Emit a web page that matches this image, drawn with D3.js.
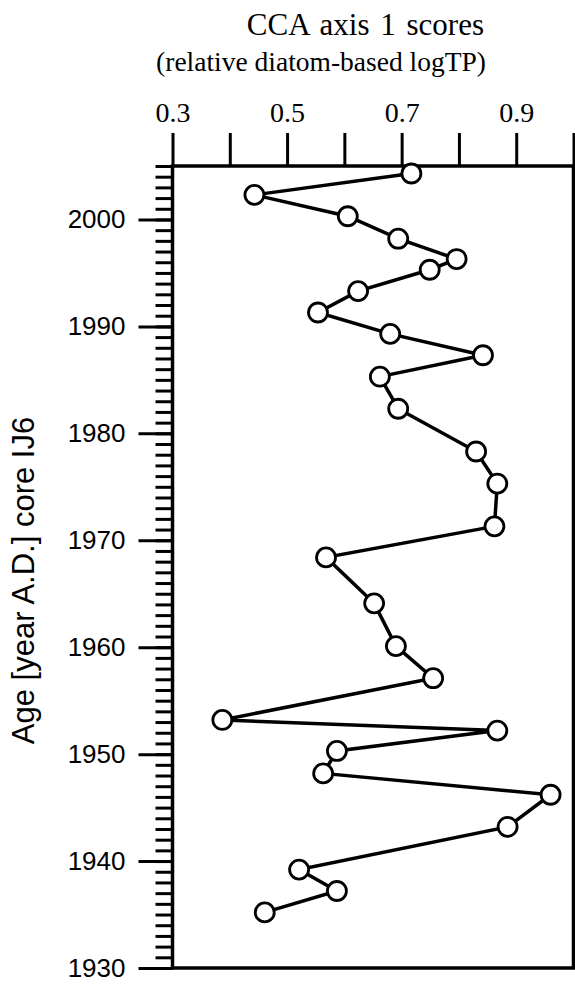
<!DOCTYPE html>
<html>
<head>
<meta charset="utf-8">
<script src="https://cdn.jsdelivr.net/npm/d3@7"></script>
<style>
  html, body { margin: 0; padding: 0; background: #fff; }
  svg { display: block; }
</style>
</head>
<body>
<div id="chart-area"></div>
<script>
// Age of each sample (year A.D.), core IJ6
const years = [2004.3, 2002.3, 2000.3, 1998.2, 1996.3, 1995.3, 1993.3, 1991.3, 1989.3, 1987.3,
  1985.3, 1982.3, 1978.3, 1975.3, 1971.3, 1968.4, 1964.1, 1960.1, 1957.1, 1953.2,
  1952.2, 1950.3, 1948.2, 1946.2, 1943.2, 1939.2, 1937.2, 1935.2];
// CCA axis 1 scores
const scores = [0.717, 0.443, 0.606, 0.694, 0.796, 0.749, 0.624, 0.554, 0.680, 0.842,
  0.662, 0.694, 0.830, 0.867, 0.862, 0.568, 0.652, 0.690, 0.755, 0.387,
  0.867, 0.587, 0.563, 0.960, 0.885, 0.521, 0.587, 0.461];

const xTicks = [0.3, 0.4, 0.5, 0.6, 0.7, 0.8, 0.9, 1.0];
const xLabels = [0.3, 0.5, 0.7, 0.9];
const yMajor = [1930, 1940, 1950, 1960, 1970, 1980, 1990, 2000];
const yMinor = d3.range(1930, 2006);

const width = 575;
const height = 984;
const margin = { left: 172.5, top: 166, right: 1.5, bottom: 16 };

const svg = d3.select('#chart-area')
  .append('svg')
  .attr('width', width)
  .attr('height', height);

const xScale = d3.scaleLinear().domain([0.3, 1.0]).range([margin.left, width - margin.right]);
const yScale = d3.scaleLinear().domain([1930, 2005]).range([height - margin.bottom, margin.top]);

// Title
const title = svg.append('g')
  .attr('font-family', '"Liberation Serif", "Times New Roman", serif')
  .attr('text-anchor', 'end')
  .attr('fill', '#000');
title.append('text')
  .attr('x', 484)
  .attr('y', 35)
  .attr('font-size', '31px')
  .attr('word-spacing', '3px')
  .text('CCA axis 1 scores');
title.append('text')
  .attr('x', 486)
  .attr('y', 71)
  .attr('font-size', '27.5px')
  .text('(relative diatom-based logTP)');

// Y minor ticks (every year)
const yMinorAxis = d3.axisLeft(yScale)
  .tickValues(yMinor)
  .tickSize(17)
  .tickFormat('');
svg.append('g')
  .attr('transform', `translate(${margin.left},0)`)
  .call(yMinorAxis)
  .call(g => g.select('.domain').remove())
  .call(g => g.selectAll('line').attr('stroke', '#000').attr('stroke-width', 3));

// Y major ticks (decades)
const yAxis = d3.axisLeft(yScale)
  .tickValues(yMajor)
  .tickSize(34)
  .tickPadding(13)
  .tickFormat(d3.format('d'));
svg.append('g')
  .attr('transform', `translate(${margin.left},0)`)
  .call(yAxis)
  .call(g => g.select('.domain').remove())
  .call(g => g.selectAll('line').attr('stroke', '#000').attr('stroke-width', 3))
  .call(g => g.selectAll('text')
    .attr('fill', '#000')
    .attr('font-family', '"Liberation Sans", Arial, sans-serif')
    .attr('font-size', '26px'));

// X axis on top
const xAxis = d3.axisTop(xScale)
  .tickValues(xTicks)
  .tickSize(33)
  .tickPadding(11)
  .tickFormat(d => (xLabels.some(v => Math.abs(v - d) < 1e-9) ? d3.format('.1f')(d) : ''));
svg.append('g')
  .attr('transform', `translate(0,${margin.top})`)
  .call(xAxis)
  .call(g => g.select('.domain').remove())
  .call(g => g.selectAll('line').attr('stroke', '#000').attr('stroke-width', 3))
  .call(g => g.selectAll('text')
    .attr('fill', '#000')
    .attr('font-family', '"Liberation Serif", "Times New Roman", serif')
    .attr('font-size', '28px'));

// Frame
svg.append('rect')
  .attr('x', margin.left)
  .attr('y', margin.top)
  .attr('width', xScale(1.0) - margin.left)
  .attr('height', yScale(1930) - margin.top)
  .attr('fill', 'none')
  .attr('stroke', '#000')
  .attr('stroke-width', 3.5);

// Y axis label
svg.append('text')
  .attr('transform', `translate(34,${580.5}) rotate(-90)`)
  .attr('text-anchor', 'middle')
  .attr('font-family', '"Liberation Sans", Arial, sans-serif')
  .attr('font-size', '31px')
  .attr('fill', '#000')
  .text('Age [year A.D.] core IJ6');

// Data
const data = years.map((y, i) => ({ year: y, score: scores[i] }));

const line = d3.line()
  .x(d => xScale(d.score))
  .y(d => yScale(d.year));

svg.append('path')
  .datum(data)
  .attr('d', line)
  .attr('fill', 'none')
  .attr('stroke', '#000')
  .attr('stroke-width', 3.5);

svg.selectAll('circle.pt')
  .data(data)
  .enter()
  .append('circle')
  .attr('class', 'pt')
  .attr('cx', d => xScale(d.score))
  .attr('cy', d => yScale(d.year))
  .attr('r', 9.5)
  .attr('fill', '#fff')
  .attr('stroke', '#000')
  .attr('stroke-width', 2.8);
</script>
</body>
</html>
